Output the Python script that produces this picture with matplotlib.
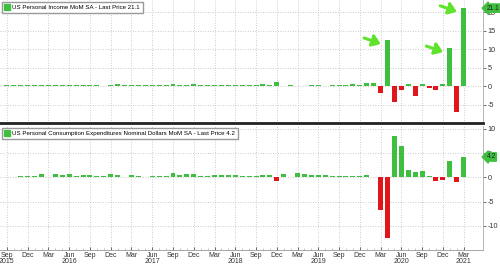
#import library
import matplotlib.pyplot as plt
import numpy as np
from matplotlib.patches import Patch
from matplotlib import font_manager

#define datasets (monthly, Sep 2015 - Mar 2021)
income = [
    0.2, 0.3, 0.3, 0.3,
    0.4, 0.2, 0.3, 0.4, 0.2, 0.3, 0.3, 0.2, 0.3, 0.4, 0.1, 0.3,
    0.6, 0.2, 0.2, 0.3, 0.4, 0.3, 0.3, 0.2, 0.5, 0.4, 0.4, 0.5,
    0.4, 0.4, 0.3, 0.3, 0.4, 0.4, 0.3, 0.4, 0.3, 0.5, 0.3, 1.0,
    0.1, 0.2, 0.1, 0.1, 0.3, 0.4, 0.1, 0.4, 0.3, 0.3, 0.5, 0.3,
    0.8, 0.7, -1.8, 12.4, -4.2, -1.1, 0.5, -2.6, 0.6, -0.6, -1.2, 0.5,
    10.2, -7.1, 21.1
]

spending = [
    0.1, 0.1, 0.3, 0.3,
    0.3, 0.6, 0.1, 0.7, 0.4, 0.6, 0.3, 0.4, 0.5, 0.3, 0.3, 0.7,
    0.4, 0.1, 0.4, 0.2, 0.1, 0.3, 0.3, 0.3, 1.0, 0.5, 0.6, 0.6,
    0.2, 0.2, 0.5, 0.5, 0.5, 0.5, 0.3, 0.3, 0.3, 0.5, 0.4, -0.8,
    0.6, 0.1, 1.0, 0.6, 0.4, 0.4, 0.4, 0.2, 0.2, 0.3, 0.3, 0.3,
    0.5, 0.1, -6.8, -12.6, 8.6, 6.4, 1.5, 1.2, 1.3, 0.2, -0.7, -0.6,
    3.4, -1.0, 4.2
]

#quarterly tick labels
tick_labels = [
    "Sep\n2015", "Dec", "Mar", "Jun\n2016", "Sep", "Dec", "Mar", "Jun\n2017",
    "Sep", "Dec", "Mar", "Jun\n2018", "Sep", "Dec", "Mar", "Jun\n2019",
    "Sep", "Dec", "Mar", "Jun\n2020", "Sep", "Dec", "Mar\n2021"
]

#months with a callout arrow in the income panel
arrow_months = [55, 64, 66]

income_title = "US Personal Income MoM SA - Last Price 21.1"
spending_title = "US Personal Consumption Expenditures Nominal Dollars MoM SA - Last Price 4.2"

green = "#3fbf3f"
red = "#e0161b"
arrow_green = "#5fe32c"

#pick a narrow font if one is installed
try:
    font_manager.findfont("Liberation Sans Narrow", fallback_to_default=False)
    font = ["Liberation Sans Narrow", "DejaVu Sans"]
    legend_size = 5.2
except ValueError:
    font = ["Liberation Sans", "DejaVu Sans"]
    legend_size = 4.45
plt.rcParams["font.family"] = font

x = np.arange(len(income))
ticks = np.arange(0, len(income), 3)

#define fig and two stacked panels
fig = plt.figure(figsize=(5, 2.66), dpi=100)
ax1 = fig.add_axes([0, 143 / 266, 483 / 500, 123 / 266])
ax2 = fig.add_axes([0, 16 / 266, 483 / 500, 124 / 266])


def style_panel(ax, values, ylim, yticks, title, last):
    colors = [green if v >= 0 else red for v in values]
    ax.bar(x, values, width=0.72, color=colors, zorder=3)
    ax.set_xlim(-1.0, 68.8)
    ax.set_ylim(*ylim)
    ax.yaxis.tick_right()
    ax.set_yticks(yticks)
    ax.set_yticklabels([str(t) for t in yticks])
    ax.tick_params(axis="y", labelsize=5.2, colors="#333333", length=2,
                   width=0.5, pad=1.5)
    ax.set_xticks(ticks)
    ax.set_xticks(x, minor=True)
    ax.grid(True, color="#bbbbbb", linestyle=(0, (1, 2)), linewidth=0.6,
            zorder=0)
    for side in ["top", "left"]:
        ax.spines[side].set_visible(False)
    ax.spines["right"].set_color("#aaaaaa")
    ax.spines["right"].set_linewidth(0.6)
    ax.legend(handles=[Patch(color=green)], labels=[title],
              loc="upper left", fontsize=legend_size, handlelength=0.9,
              handleheight=1.1, handletextpad=0.4, borderpad=0.45,
              borderaxespad=0.25, fancybox=False, edgecolor="#999999",
              framealpha=1)
    ax.annotate(f"{last}", xy=(1.0, last), xycoords=("axes fraction", "data"),
                xytext=(2.5, 0), textcoords="offset points", va="center",
                ha="left", fontsize=4.8, color="#222222", zorder=6,
                bbox=dict(boxstyle="larrow,pad=0.1", fc=green, ec=green),
                annotation_clip=False)


#top panel: income
style_panel(ax1, income, (-10.0, 23.3), [-5, 0, 5, 10, 15, 20],
            income_title, income[-1])
ax1.tick_params(axis="x", which="both", length=0, labelbottom=False)
ax1.spines["bottom"].set_color("#222222")
ax1.spines["bottom"].set_linewidth(2)

#callout arrows
for m in arrow_months:
    ax1.annotate("", xy=(m - 0.55, income[m] - 1.2), xytext=(-16, 5.5),
                 textcoords="offset points",
                 arrowprops=dict(arrowstyle="-|>,head_length=0.5,head_width=0.35",
                                 color=arrow_green, lw=2.2,
                                 linestyle=(0, (2, 0.8))),
                 annotation_clip=False, zorder=5)

#bottom panel: spending
style_panel(ax2, spending, (-15.0, 10.6), [-10, -5, 0, 5, 10],
            spending_title, spending[-1])
ax2.set_xticklabels(tick_labels, linespacing=0.9)
ax2.tick_params(axis="x", which="major", labelsize=5.0, colors="#333333",
                direction="in", length=2.5, width=0.5, pad=1.2)
ax2.tick_params(axis="x", which="minor", direction="in", length=1.5,
                width=0.4, color="#999999")
ax2.spines["bottom"].set_color("#999999")
ax2.spines["bottom"].set_linewidth(0.6)

#save
fig.savefig("out.png", dpi=100)
